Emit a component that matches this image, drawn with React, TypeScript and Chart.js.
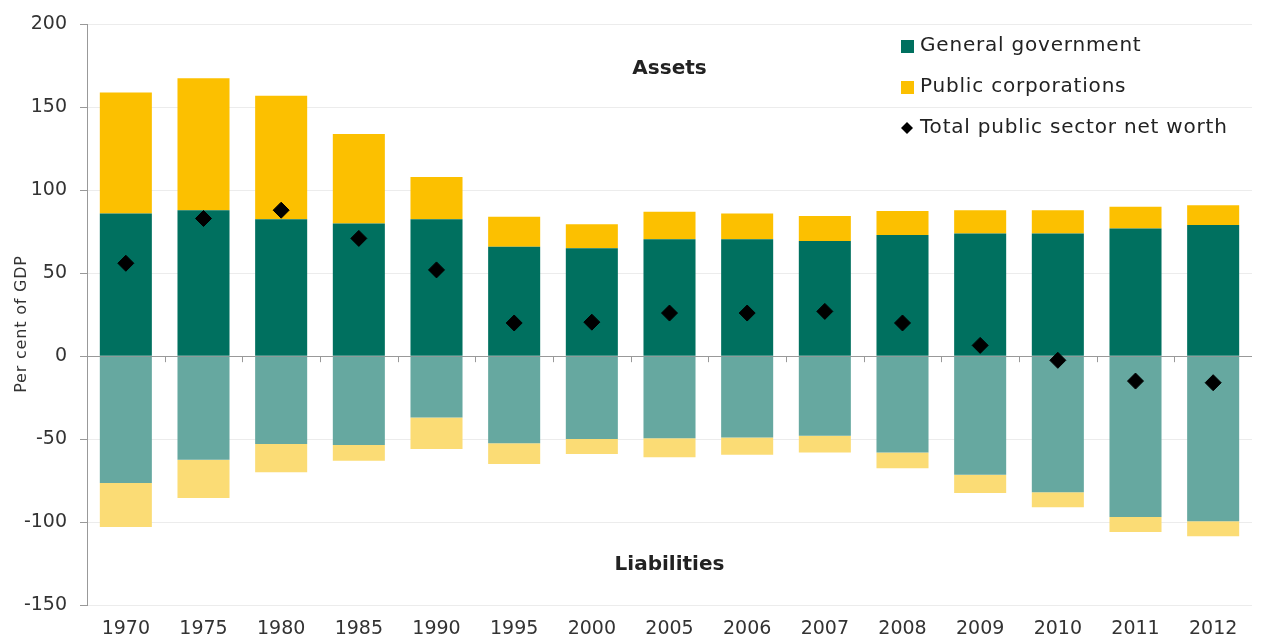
import React, { useEffect, useRef } from "react";
import { Chart, registerables } from "chart.js";

Chart.register(...registerables);

const years = ["1970", "1975", "1980", "1985", "1990", "1995", "2000", "2005", "2006", "2007", "2008", "2009", "2010", "2011", "2012"];
const ggAssets = [86, 88, 82.5, 80, 82.5, 66, 65, 70.5, 70.5, 69.5, 73, 74, 74, 77, 79];
const pcAssets = [73, 79.5, 74.5, 54, 25.5, 18, 14.5, 16.5, 15.5, 15, 14.5, 14, 14, 13, 12];
const ggLiabilities = [-76.5, -62.5, -53, -53.5, -37, -52.5, -50, -49.5, -49, -48, -58, -71.5, -82, -97, -99.5];
const pcLiabilities = [-26.5, -23, -17, -9.5, -19, -12.5, -9, -11.5, -10.5, -10, -9.5, -11, -9, -9, -9];
const netWorth = [56, 83, 88, 71, 52, 20, 20.5, 26, 26, 27, 20, 6.5, -2.5, -15, -16];

const yTicks = [-150, -100, -50, 0, 50, 100, 150, 200];
const legendLabels = ["General government", "Public corporations", "Total public sector net worth"];
const yTitle = "Per cent of GDP";

const GG = "#00705f";
const PC = "#fcc000";
const GG_L = "#66a8a0";
const PC_L = "#fbdc75";
const FONT = "'DejaVu Sans'";

const overlayPlugin = {
  id: "overlay",
  afterDatasetsDraw(chart: any) {
    const { ctx, chartArea, scales } = chart;
    const x = scales.x;
    const y = scales.y;
    ctx.save();
    // category tick marks on zero line
    const y0 = y.getPixelForValue(0);
    ctx.strokeStyle = "#999";
    ctx.lineWidth = 1;
    const n = years.length;
    const step = (chartArea.right - chartArea.left) / n;
    for (let i = 1; i < n; i++) {
      const px = Math.round(chartArea.left + i * step) + 0.5;
      ctx.beginPath();
      ctx.moveTo(px, y0);
      ctx.lineTo(px, y0 + 6);
      ctx.stroke();
    }
    // Assets / Liabilities
    ctx.fillStyle = "#222";
    ctx.font = `bold 20px ${FONT}`;
    ctx.textAlign = "center";
    ctx.textBaseline = "middle";
    ctx.fillText("Assets", x.getPixelForValue(7), y.getPixelForValue(173.5));
    ctx.fillText("Liabilities", x.getPixelForValue(7), y.getPixelForValue(-126));
    // legend
    const lx = 901;
    const rows = [46, 87, 128];
    ctx.textAlign = "left";
    ctx.font = `20px ${FONT}`;
    try { (ctx as any).letterSpacing = "0.8px"; } catch (e) {}
    ctx.fillStyle = GG;
    ctx.fillRect(lx, rows[0] - 6, 13, 13);
    ctx.fillStyle = PC;
    ctx.fillRect(lx, rows[1] - 6, 13, 13);
    ctx.fillStyle = "#000";
    ctx.beginPath();
    ctx.moveTo(lx + 6, rows[2] - 6);
    ctx.lineTo(lx + 12, rows[2]);
    ctx.lineTo(lx + 6, rows[2] + 6);
    ctx.lineTo(lx, rows[2]);
    ctx.closePath();
    ctx.fill();
    ctx.fillStyle = "#222";
    legendLabels.forEach((t, i) => ctx.fillText(t, lx + 19, rows[i]));
    // y title
    ctx.font = `16px ${FONT}`;
    ctx.fillStyle = "#333";
    ctx.translate(22, 324);
    ctx.rotate(-Math.PI / 2);
    ctx.textAlign = "center";
    ctx.fillText(yTitle, 0, 0);
    ctx.restore();
  },
};

export default function App() {
  const ref = useRef<HTMLCanvasElement | null>(null);
  useEffect(() => {
    document.body.style.margin = "0";
    const chart = new Chart(ref.current as HTMLCanvasElement, {
      type: "bar",
      data: {
        labels: years,
        datasets: [
          { type: "line", label: legendLabels[2], data: netWorth, showLine: false, pointStyle: "rectRot", pointRadius: 8, pointBackgroundColor: "#000", pointBorderColor: "#000", order: 0 } as any,
          { label: legendLabels[0], data: ggAssets, backgroundColor: GG, stack: "s", order: 1 },
          { label: legendLabels[1], data: pcAssets, backgroundColor: PC, stack: "s", order: 1 },
          { label: "GG liabilities", data: ggLiabilities, backgroundColor: GG_L, stack: "s", order: 1 },
          { label: "PC liabilities", data: pcLiabilities, backgroundColor: PC_L, stack: "s", order: 1 },
        ],
      },
      options: {
        animation: false,
        responsive: false,
        layout: { padding: { top: 24, right: 4, left: 0, bottom: 0 } },
        plugins: { legend: { display: false }, tooltip: { enabled: false } },
        datasets: { bar: { barPercentage: 0.67, categoryPercentage: 1 } },
        scales: {
          x: {
            stacked: true,
            grid: { display: false, drawTicks: false },
            border: { display: false },
            ticks: { color: "#333", font: { family: FONT, size: 19 }, padding: 13, maxRotation: 0, autoSkip: false },
            afterFit: (s: any) => { s.height = 38; },
          },
          y: {
            stacked: true,
            min: -150,
            max: 200,
            afterBuildTicks: (s: any) => { s.ticks = yTicks.map((v) => ({ value: v })); },
            grid: {
              color: (c: any) => (c.tick && c.tick.value === 0 ? "#999" : "#ececec"),
              tickColor: "#999",
              tickLength: 7,
            },
            border: { display: true, color: "#999" },
            ticks: { color: "#333", font: { family: FONT, size: 19 }, padding: 13 },
            afterFit: (s: any) => { s.width = 87; },
          },
        },
      },
      plugins: [overlayPlugin],
    });
    return () => chart.destroy();
  }, []);
  return (
    <div style={{ width: 1261, height: 643, position: "relative" }}>
      <canvas ref={ref} width={1261} height={643} />
    </div>
  );
}
